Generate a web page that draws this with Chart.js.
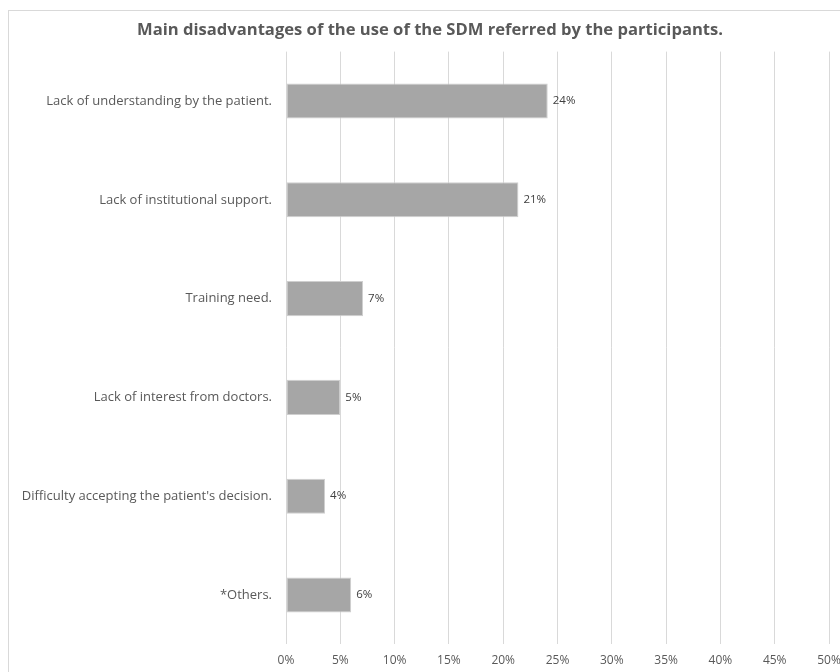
<!DOCTYPE html>
<html>
<head>
<meta charset="utf-8">
<script src="https://cdn.jsdelivr.net/npm/chart.js@4/dist/chart.umd.min.js"></script>
<style>
  html, body { margin: 0; padding: 0; background: #fff; }
  canvas { display: block; }
</style>
</head>
<body>
<canvas id="grafico" width="840" height="672"></canvas>
<script>
// Dados
const titulo = "Main disadvantages of the use of the SDM referred by the participants.";
const categorias = [
  "Lack of understanding by the patient.",
  "Lack of institutional support.",
  "Training need.",
  "Lack of interest from doctors.",
  "Difficulty accepting the patient's decision.",
  "*Others."
];
const valores = [24.1, 21.4, 7.1, 5.0, 3.6, 6.0];
const rotulos = ["24%", "21%", "7%", "5%", "4%", "6%"];
const ticksX = [0, 5, 10, 15, 20, 25, 30, 35, 40, 45, 50];

const fonte = "'Open Sans', 'Liberation Sans', sans-serif";

// Moldura cinza e título (centrado como no original)
const moldura = {
  id: "moldura",
  beforeDraw(chart) {
    const ctx = chart.ctx;
    ctx.save();
    ctx.fillStyle = "#fff";
    ctx.fillRect(0, 0, chart.width, chart.height);
    ctx.strokeStyle = "#d9d9d9";
    ctx.lineWidth = 1;
    ctx.strokeRect(8.5, 10.5, 900, 700);
    ctx.font = "bold 16.6px " + fonte;
    ctx.fillStyle = "#595959";
    ctx.textAlign = "center";
    ctx.textBaseline = "middle";
    ctx.fillText(titulo, 430, 30);
    ctx.restore();
  }
};

// Rótulos de valor à direita das barras
const rotulosBarras = {
  id: "rotulosBarras",
  afterDatasetsDraw(chart) {
    const ctx = chart.ctx;
    const meta = chart.getDatasetMeta(0);
    ctx.save();
    ctx.font = "11.5px " + fonte;
    ctx.fillStyle = "#404040";
    ctx.textAlign = "left";
    ctx.textBaseline = "middle";
    meta.data.forEach((bar, i) => {
      ctx.fillText(rotulos[i], bar.x + 5, bar.y);
    });
    ctx.restore();
  }
};

new Chart(document.getElementById("grafico"), {
  type: "bar",
  data: {
    labels: categorias,
    datasets: [{
      data: valores,
      backgroundColor: "#a6a6a6",
      borderColor: "#cfcfcf",
      borderWidth: 1,
      borderSkipped: false,
      categoryPercentage: 1,
      barPercentage: 0.355
    }]
  },
  options: {
    indexAxis: "y",
    responsive: false,
    animation: false,
    layout: { padding: { left: 0, right: 11, top: 51.6, bottom: 0 } },
    plugins: {
      legend: { display: false },
      tooltip: { enabled: false },
      title: { display: false }
    },
    scales: {
      x: {
        min: 0,
        max: 50,
        afterBuildTicks(scale) {
          scale.ticks = ticksX.map(v => ({ value: v }));
        },
        afterFit(scale) {
          scale.height = 27.6;
          scale.paddingLeft = 0;
          scale.paddingRight = 0;
        },
        grid: { color: "#d9d9d9", drawTicks: false },
        border: { display: false },
        ticks: {
          padding: 9,
          color: "#595959",
          font: { family: fonte, size: 12 },
          callback: v => v + "%"
        }
      },
      y: {
        afterFit(scale) { scale.width = 286; },
        grid: { display: false, drawTicks: false },
        border: { display: false },
        ticks: {
          padding: 14,
          color: "#595959",
          font: { family: fonte, size: 13 }
        }
      }
    }
  },
  plugins: [moldura, rotulosBarras]
});
</script>
</body>
</html>
